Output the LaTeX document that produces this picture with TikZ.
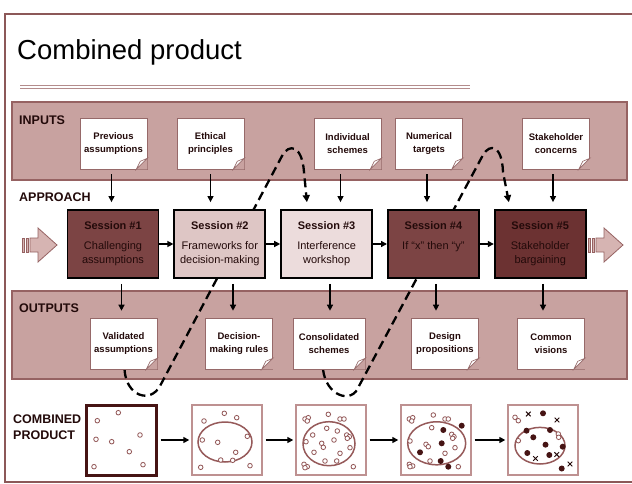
\documentclass[tikz,border=0pt]{standalone}
\usepackage{fontspec}
\setmainfont{Liberation Sans}
\usetikzlibrary{calc}
\usetikzlibrary{positioning}
\usetikzlibrary{arrows.meta}

\definecolor{framecol}{RGB}{140,88,88}
\definecolor{bandfill}{RGB}{200,162,160}
\definecolor{bandline}{RGB}{150,98,98}
\definecolor{darkses}{RGB}{124,68,68}
\definecolor{darkerses}{RGB}{108,50,50}
\definecolor{lightses}{RGB}{222,198,197}
\definecolor{paleses}{RGB}{236,220,220}
\definecolor{inkcol}{RGB}{35,10,10}
\definecolor{notebrd}{RGB}{150,105,105}
\definecolor{boxbrd}{RGB}{190,145,145}
\definecolor{ellcol}{RGB}{150,90,90}
\definecolor{dotcol}{RGB}{145,85,85}
\definecolor{dotdark}{RGB}{70,20,20}
\definecolor{rulecol}{RGB}{180,140,140}
\definecolor{blockfill}{RGB}{214,180,178}

\pgfdeclarelayer{bg}
\pgfdeclarelayer{mid}
\pgfsetlayers{bg,mid,main}

\begin{document}
\begin{tikzpicture}[x=1pt,y=-1pt,
  every node/.style={align=center,text=inkcol},
  band/.style={fill=bandfill,draw=bandline,line width=1.2pt},
  note/.style={rectangle,fill=white,draw=notebrd,line width=0.6pt,minimum width=67pt,minimum height=51pt,inner sep=1pt,font=\bfseries\fontsize{9.5}{13}\selectfont},
  session/.style={rectangle,draw=black,line width=1.8pt,minimum width=91pt,minimum height=68pt,inner sep=2pt,font=\fontsize{11}{14}\selectfont},
  rowlabel/.style={anchor=west,align=left,inner sep=0pt,font=\bfseries\fontsize{12.5}{16}\selectfont},
  product/.style={rectangle,draw=boxbrd,line width=1.4pt,minimum size=70pt,inner sep=0pt},
  link/.style={->,line width=1.3pt,>={Triangle[length=6pt,width=6pt]}},
  feed/.style={link,shorten <=5pt,shorten >=7pt},
  bigarrow/.style={fill=blockfill,draw=bandline,line width=0.8pt},
  loopline/.style={->,line width=2.3pt,dash pattern=on 9pt off 5pt,shorten >=7pt,>={Triangle[length=7pt,width=7pt]}},
  opendot/.style={draw=dotcol,line width=0.8pt,fill=white},
  fulldot/.style={fill=dotdark},
  xmark/.style={draw=inkcol,line width=1pt}
]
\useasboundingbox (0,0) rectangle (632,484);
\begin{pgfonlayer}{bg}
\fill[white] (0,0) rectangle (632,484);
\draw[framecol,line width=2.6pt] (5,14) rectangle (640,482);
\draw[band] (12,102) rectangle (627,180);
\draw[band] (12,291) rectangle (627,379);
\draw[rulecol,line width=0.8pt] (20,85) -- (470,85) (20,88) -- (470,88);
\end{pgfonlayer}

\node[anchor=base west,inner sep=0pt,text=black,font=\fontsize{27.5}{30}\selectfont] (title) at (17,60) {Combined product};

\node[rowlabel] (inlab) at (19,120) {INPUTS};
\node[rowlabel] (applab) at (19,197) {APPROACH};
\node[rowlabel] (outlab) at (19,308) {OUTPUTS};
\node[rowlabel] (prodlab) at (13,427) {COMBINED\\PRODUCT};

\node[note] (in1) at (113.5,143.5) {Previous\\assumptions};
\node[note] (in2) at (210.5,143.5) {Ethical\\principles};
\node[note] (in3) at (347.5,143.5) {Individual\\schemes};
\node[note] (in4) at (429,143.5) {Numerical\\targets};
\node[note] (in5) at (556,143.5) {Stakeholder\\concerns};

\node[session,fill=darkses] (s1) at (113,244) {\textbf{Session \#1}\\[6pt]Challenging\\assumptions};
\node[session,fill=lightses,right=14pt of s1] (s2) {\textbf{Session \#2}\\[6pt]Frameworks for\\decision-making};
\node[session,fill=paleses,right=14pt of s2] (s3) {\textbf{Session \#3}\\[6pt]Interference\\workshop};
\node[session,fill=darkses,right=14pt of s3] (s4) {\textbf{Session \#4}\\[6pt]If “x” then “y”\\\phantom{g}};
\node[session,fill=darkerses,right=14pt of s4] (s5) {\textbf{Session \#5}\\[6pt]Stakeholder\\bargaining};

\node[note] (out1) at (123.5,343.5) {Validated\\assumptions};
\node[note] (out2) at (239,343.5) {Decision-\\making rules};
\node[note,minimum width=72pt] (out3) at (329,343.5) {Consolidated\\schemes};
\node[note] (out4) at (445,343.5) {Design\\propositions};
\node[note] (out5) at (551,343.5) {Common\\visions};

\foreach \n in {in1,in2,in3,in4,in5,out1,out2,out3,out4,out5} {
  \fill[bandfill] (\n.south east) -- ([xshift=-11pt]\n.south east) -- ([yshift=11pt]\n.south east) -- cycle;
  \draw[notebrd,line width=0.6pt,fill=white] ([xshift=-11pt]\n.south east) -- ([yshift=11pt]\n.south east) -- ([xshift=-7pt,yshift=8pt]\n.south east) -- cycle;
}

\foreach \n/\s/\dx in {in1/s1/-2,in2/s2/0,in3/s3/-7,in4/s4/-2,in5/s5/-3}
  \draw[feed] ([xshift=\dx pt]\n.south) -- ([xshift=\dx pt]\n.south |- \s.north);
\foreach \s/\n/\dx in {s1/out1/-2,s2/out2/-6,s3/out3/1,s4/out4/-9,s5/out5/-8}
  \draw[feed] ([xshift=\dx pt]\n.north |- \s.south) -- ([xshift=\dx pt]\n.north);
\foreach \a/\b in {s1/s2,s2/s3,s3/s4,s4/s5}
  \draw[link] (\a.east) -- (\b.west);

\foreach \ax in {22,588} {
  \draw[bigarrow] (\ax+8,238) -- (\ax+16,238) -- (\ax+16,228) -- (\ax+35,245) -- (\ax+16,262) -- (\ax+16,252) -- (\ax+8,252) -- cycle;
  \draw[bigarrow] (\ax,238) rectangle (\ax+2.5,252);
  \draw[bigarrow] (\ax+4,238) rectangle (\ax+6.5,252);
}

\node[product,draw=dotdark,line width=3pt] (p1) at (121,440) {};
\node[product] (p2) at (227,440) {};
\node[product] (p3) at (331,440) {};
\node[product] (p4) at (436,440) {};
\node[product] (p5) at (543,440) {};
\foreach \a/\b in {p1/p2,p2/p3,p3/p4,p4/p5}
  \draw[link,line width=2.4pt,shorten <=3pt,shorten >=2pt] (\a.east) -- (\b.west);

\begin{scope}[shift={(p1.center)}]
  \foreach \a/\b in {-2.7/-27.3,-23.7/-19.3,-25/-0.7,-9.3/1.7,19/-5,8.3/11.7,-27/26.7,22/24.7}
    \draw[opendot] (\a,\b) circle (2.3pt);
\end{scope}
\begin{scope}[shift={(p2.center)}]
  \draw[ellcol,line width=1.5pt] (-2,2) ellipse [x radius=27pt,y radius=20pt];
  \foreach \a/\b in {-2.7/-26.7,9.7/-22.3,-23/-19,-24.7/0,-9.3/2.3,20.3/-3.7,8.7/12.3,-6.3/20,5.7/20.3,-26.3/27.3,23/25.7}
    \draw[opendot] (\a,\b) circle (2.3pt);
\end{scope}
\begin{scope}[shift={(p3.center)}]
  \draw[ellcol,line width=1.5pt] (-2,3.7) ellipse [x radius=26pt,y radius=22pt];
  \foreach \a/\b in {-26/-21,-22.7/-22.3,-23.7/-19,-2.7/-25.7,9/-21,13/-21,-18.3/-5,-4.3/-11.7,6.3/-9,-25/1.7,-9.3/3.3,-7.7/7.3,3/0,15.7/-5,18.3/-3.3,16.3/-1.7,19/7.7,-17/12.3,9/13.3,-6/21,5.7/21,-27/24.3,-23.7/26.7,-26/27.7,22.3/26.7}
    \draw[opendot] (\a,\b) circle (2.3pt);
\end{scope}
\begin{scope}[shift={(p4.center)}]
  \draw[ellcol,line width=1.5pt] (0.7,3.3) ellipse [x radius=29pt,y radius=21.5pt];
  \foreach \a/\b in {-26.7/-21,-23.3/-22.3,-24.3/-19,-2.7/-25,9/-21,12.3/-21,-4.3/-12.3,-26/1,-10/4.3,-7.7/6.7,15.7/-5.7,18/-3.3,16.7/-1.7,19/7.7,9/13.3,-6/21,-26.7/24.3,-23.3/26,-26/26.7,22.3/26.7}
    \draw[opendot] (\a,\b) circle (2.3pt);
  \foreach \a/\b in {25.7/-14.3,7.3/-10,5.7/3.3,-16/12.3,4.7/21,12.3/26.7}
    \fill[fulldot] (\a,\b) circle (3pt);
\end{scope}
\begin{scope}[shift={(p5.center)}]
  \draw[ellcol,line width=1.5pt] (-3,5.7) ellipse [x radius=25pt,y radius=18.3pt];
  \foreach \a/\b in {-28/-22.7,-24.7/-19.3,-24.7/0.7,15.3/-6,15.7/-2.7}
    \draw[opendot] (\a,\b) circle (2.3pt);
  \foreach \a/\b in {0/-26.7,-16.5/-9.3,7/-10,-9.7/-2.7,2.5/4.7,19.7/6.7,-15.7/13,6.3/15,18.7/28.5}
    \fill[fulldot] (\a,\b) circle (3pt);
  \foreach \a/\b in {-14.7/-26,14/-20,-7.5/18.5,13.7/14.5,27/24}
    \draw[xmark] (\a-2.3,\b-2.3) -- (\a+2.3,\b+2.3) (\a-2.3,\b+2.3) -- (\a+2.3,\b-2.3);
\end{scope}

\begin{pgfonlayer}{mid}
\draw[loopline] ([xshift=1pt]out1.south) .. controls (126,396) and (150,404) .. (160,386) -- (282,156) .. controls (289,143) and (302,145) .. (304,172) -- ([xshift=-19pt]s3.north);
\draw[loopline] ([xshift=-6pt]out3.south) .. controls (326,396) and (352,405) .. (359,386) -- (483,155) .. controls (490,143) and (502,145) .. (503,172) -- ([xshift=-30pt]s5.north);
\end{pgfonlayer}
\end{tikzpicture}
\end{document}
